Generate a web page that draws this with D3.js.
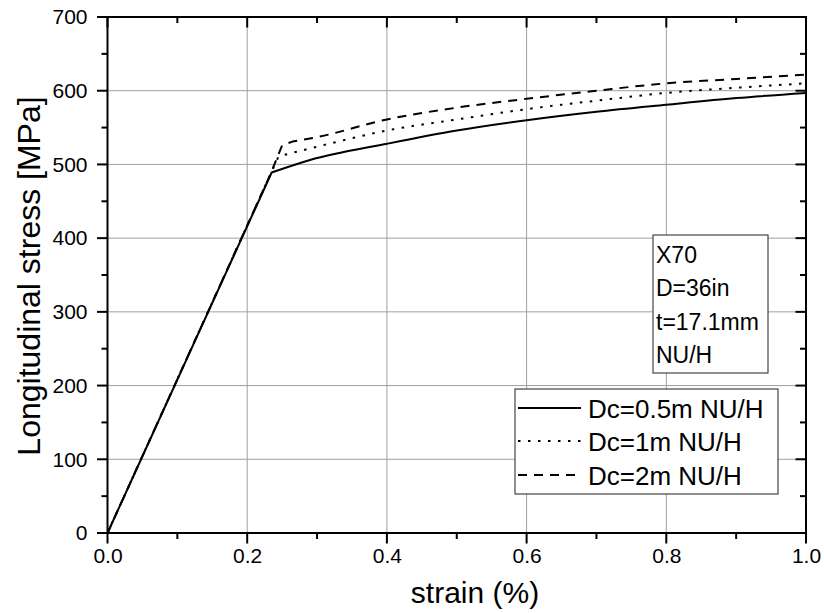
<!DOCTYPE html>
<html>
<head>
<meta charset="utf-8">
<script src="https://cdn.jsdelivr.net/npm/d3@7"></script>
<style>
  html, body { margin: 0; padding: 0; background: #fff; }
  svg { display: block; font-family: "Liberation Sans", Arial, sans-serif; }
</style>
</head>
<body>
<svg id="chart" width="824" height="613"></svg>
<script>
// ---- data ----
const seriesNames = ["Dc=0.5m NU/H", "Dc=1m NU/H", "Dc=2m NU/H"];
const strainSolid = [0, 0.235, 0.29, 0.4, 0.5, 0.6, 0.7, 0.8, 0.9, 1.0];
const stressSolid = [0, 489, 506, 528, 546, 560, 571.5, 581, 590, 597];
const strainDotted = [0, 0.233, 0.245, 0.3, 0.4, 0.5, 0.6, 0.7, 0.8, 0.9, 1.0];
const stressDotted = [0, 486, 511, 524, 546, 561, 575, 586.5, 597, 604, 610];
const strainDashed = [0, 0.233, 0.25, 0.265, 0.3, 0.4, 0.5, 0.6, 0.7, 0.8, 0.9, 1.0];
const stressDashed = [0, 486, 526, 531, 537, 561, 577, 589, 600, 610, 616, 622];
const xTicks = [0, 0.2, 0.4, 0.6, 0.8, 1.0];
const xMinorTicks = [0.1, 0.3, 0.5, 0.7, 0.9];
const yTicks = [0, 100, 200, 300, 400, 500, 600, 700];
const yMinorTicks = [50, 150, 250, 350, 450, 550, 650];
const infoLines = ["X70", "D=36in", "t=17.1mm", "NU/H"];
const xTitle = "strain (%)";
const yTitle = "Longitudinal stress [MPa]";

// ---- layout ----
const PL = 107.5, PR = 806, PT = 17, PB = 533;
const svg = d3.select("#chart");
const x = d3.scaleLinear().domain([0, 1]).range([PL, PR]);
const y = d3.scaleLinear().domain([0, 700]).range([PB, PT]);

// grid
const grid = svg.append("g").attr("stroke", "#a0a0a0").attr("stroke-width", 1);
xTicks.filter(v => v > 0 && v < 1).forEach(v => {
  grid.append("line").attr("x1", x(v)).attr("x2", x(v)).attr("y1", PT).attr("y2", PB);
});
yTicks.filter(v => v > 0 && v < 700).forEach(v => {
  grid.append("line").attr("x1", PL).attr("x2", PR).attr("y1", y(v)).attr("y2", y(v));
});

// curves: straight elastic / transition part, smooth hardening part
const series = [
  { xs: strainSolid, ys: stressSolid, dash: null, smoothFrom: 1 },
  { xs: strainDotted, ys: stressDotted, dash: "2.5,7.5", smoothFrom: 2 },
  { xs: strainDashed, ys: stressDashed, dash: "9,7", smoothFrom: 3 }
];
const lineLin = d3.line().x(d => x(d[0])).y(d => y(d[1]));
const lineSmooth = d3.line().x(d => x(d[0])).y(d => y(d[1])).curve(d3.curveMonotoneX);
[2, 1, 0].forEach(i => {
  const s = series[i];
  const pts = s.xs.map((v, j) => [v, s.ys[j]]);
  const k = s.smoothFrom;
  const d = lineLin(pts.slice(0, k + 1)) + lineSmooth(pts.slice(k)).replace(/^M/, "L");
  svg.append("path").attr("d", d).attr("fill", "none")
    .attr("stroke", "#000").attr("stroke-width", 2)
    .attr("stroke-linejoin", "round")
    .attr("stroke-dasharray", s.dash);
});

// axis labels via d3 axes, tick marks drawn explicitly
const fs = 21;
const gBottom = svg.append("g").attr("transform", `translate(0,${PB})`)
  .call(d3.axisBottom(x).tickValues(xTicks).tickFormat(d3.format(".1f")).tickSize(0).tickPadding(15));
const gLeft = svg.append("g").attr("transform", `translate(${PL},0)`)
  .call(d3.axisLeft(y).tickValues(yTicks).tickSize(0).tickPadding(20));
[gBottom, gLeft].forEach(g => {
  g.select(".domain").remove();
  g.selectAll("text").attr("fill", "#000").style("font-size", fs + "px")
    .style("font-family", '"Liberation Sans", Arial, sans-serif');
});

const ticks = svg.append("g").attr("stroke", "#000").attr("stroke-width", 2);
const MAJ = 10.5, MIN = 6;
xTicks.forEach(v => {
  ticks.append("line").attr("x1", x(v)).attr("x2", x(v)).attr("y1", PB).attr("y2", PB + MAJ);
  ticks.append("line").attr("x1", x(v)).attr("x2", x(v)).attr("y1", PT).attr("y2", PT + MAJ);
});
xMinorTicks.forEach(v => {
  ticks.append("line").attr("x1", x(v)).attr("x2", x(v)).attr("y1", PB).attr("y2", PB + MIN);
  ticks.append("line").attr("x1", x(v)).attr("x2", x(v)).attr("y1", PT).attr("y2", PT + MIN);
});
yTicks.forEach(v => {
  ticks.append("line").attr("x1", PL).attr("x2", PL - MAJ).attr("y1", y(v)).attr("y2", y(v));
  ticks.append("line").attr("x1", PR).attr("x2", PR - MAJ).attr("y1", y(v)).attr("y2", y(v));
});
yMinorTicks.forEach(v => {
  ticks.append("line").attr("x1", PL).attr("x2", PL - MIN).attr("y1", y(v)).attr("y2", y(v));
  ticks.append("line").attr("x1", PR).attr("x2", PR - MIN).attr("y1", y(v)).attr("y2", y(v));
});

// frame
svg.append("rect").attr("x", PL).attr("y", PT).attr("width", PR - PL).attr("height", PB - PT)
  .attr("fill", "none").attr("stroke", "#000").attr("stroke-width", 2);

// axis titles
svg.append("text").attr("x", 475).attr("y", 603).attr("text-anchor", "middle")
  .style("font-size", "30px").text(xTitle);
svg.append("text").attr("transform", `translate(40,276) rotate(-90)`).attr("text-anchor", "middle")
  .style("font-size", "32px").text(yTitle);

// info box
svg.append("rect").attr("x", 653).attr("y", 235).attr("width", 115).attr("height", 138)
  .attr("fill", "#fff").attr("stroke", "#444").attr("stroke-width", 1.2);
infoLines.forEach((t, i) => {
  svg.append("text").attr("x", 656).attr("y", 263 + i * 33.3)
    .style("font-size", "23px").text(t);
});

// legend
svg.append("rect").attr("x", 515).attr("y", 389).attr("width", 263).attr("height", 105)
  .attr("fill", "#fff").attr("stroke", "#444").attr("stroke-width", 1.2);
const rowY = [408, 441, 475];
seriesNames.forEach((n, i) => {
  svg.append("line").attr("x1", 518).attr("x2", 581).attr("y1", rowY[i]).attr("y2", rowY[i])
    .attr("stroke", "#000").attr("stroke-width", 2).attr("stroke-dasharray", series[i].dash);
  svg.append("text").attr("x", 588).attr("y", rowY[i] + 10)
    .style("font-size", "26px").text(n);
});
</script>
</body>
</html>
